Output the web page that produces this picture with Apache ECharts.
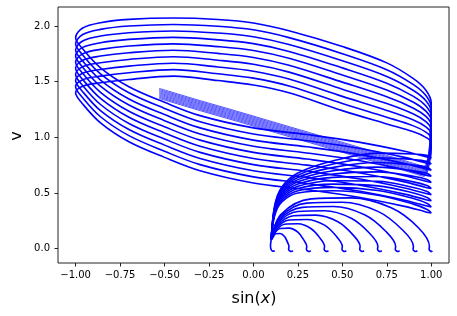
<!DOCTYPE html>
<html><head><meta charset="utf-8">
<script src="https://cdn.jsdelivr.net/npm/echarts@6/dist/echarts.min.js"></script>
<style>html,body{margin:0;padding:0;background:#fff}#c{width:457px;height:316px}</style>
</head><body><div id="c"></div>
<script>
// tick positions / labels
var xTicks = [-1.0, -0.75, -0.5, -0.25, 0.0, 0.25, 0.5, 0.75, 1.0];
var xTickLabels = ['\u22121.00','\u22120.75','\u22120.50','\u22120.25','0.00','0.25','0.50','0.75','1.00'];
var yTicks = [0.0, 0.5, 1.0, 1.5, 2.0];
var yTickLabels = ['0.0','0.5','1.0','1.5','2.0'];

// sin(x) sequence shared by the trajectories that go all the way round
var sAround = [0.10,0.12,0.16,0.25,0.45,0.70,0.90,0.98,1.00,
  0.97,0.85,0.60,0.30,0.00,-0.30,-0.50,-0.70,-0.86,-0.96,-1.00,
  -0.96,-0.86,-0.70,-0.45,-0.20,0.00,0.20,0.50,0.75,0.90,0.97,1.00,
  0.995,
  0.96,0.90,0.75,0.55,0.37,0.15,-0.10,-0.30,-0.53];
var tailStart = 32; // index where the final (faint) leg begins
// v along each of those trajectories
var vAround0 = [0.08,0.30,0.42,0.50,0.52,0.48,0.40,0.35,0.32, 0.33,0.38,0.46,0.53,0.59,0.70,0.82,0.96,1.13,1.30,1.40, 1.46,1.49,1.52,1.55,1.51,1.47,1.40,1.24,1.12,1.05,1.00,0.95, 0.80, 0.65,0.677,0.748,0.842,0.927,1.03,1.148,1.24,1.35];
var vAround1 = [0.08,0.31,0.435,0.52,0.55,0.522,0.45,0.404,0.375, 0.385,0.435,0.515,0.585,0.645,0.755,0.875,1.015,1.185,1.355,1.455, 1.518,1.55,1.58,1.608,1.571,1.532,1.462,1.304,1.181,1.103,1.047,0.99, 0.825, 0.66,0.687,0.758,0.852,0.937,1.04,1.158,1.25,1.36];
var vAround2 = [0.08,0.32,0.45,0.54,0.58,0.564,0.50,0.458,0.43, 0.44,0.49,0.57,0.64,0.70,0.81,0.93,1.07,1.24,1.41,1.51, 1.576,1.61,1.64,1.666,1.632,1.594,1.524,1.368,1.242,1.156,1.094,1.03, 0.85, 0.67,0.697,0.768,0.862,0.947,1.05,1.168,1.26,1.37];
var vAround3 = [0.08,0.33,0.465,0.56,0.61,0.606,0.55,0.512,0.485, 0.495,0.545,0.625,0.695,0.755,0.865,0.985,1.125,1.295,1.465,1.565, 1.634,1.67,1.70,1.724,1.693,1.656,1.586,1.432,1.303,1.209,1.141,1.07, 0.875, 0.68,0.707,0.778,0.872,0.957,1.06,1.178,1.27,1.38];
var vAround4 = [0.08,0.34,0.48,0.58,0.64,0.648,0.60,0.566,0.54, 0.55,0.60,0.68,0.75,0.81,0.92,1.04,1.18,1.35,1.52,1.62, 1.692,1.73,1.76,1.782,1.754,1.718,1.648,1.496,1.364,1.262,1.188,1.11, 0.90, 0.69,0.717,0.788,0.882,0.967,1.07,1.188,1.28,1.39];
var vAround5 = [0.08,0.35,0.495,0.60,0.67,0.69,0.65,0.62,0.595, 0.605,0.655,0.735,0.805,0.865,0.975,1.095,1.235,1.405,1.575,1.675, 1.75,1.79,1.82,1.84,1.815,1.78,1.71,1.56,1.425,1.315,1.235,1.15, 0.925, 0.70,0.727,0.798,0.892,0.977,1.08,1.198,1.29,1.40];
var vAround6 = [0.08,0.36,0.51,0.62,0.70,0.732,0.70,0.674,0.65, 0.66,0.71,0.79,0.86,0.92,1.03,1.15,1.29,1.46,1.63,1.73, 1.808,1.85,1.88,1.898,1.876,1.842,1.772,1.624,1.486,1.368,1.282,1.19, 0.95, 0.71,0.737,0.808,0.902,0.987,1.09,1.208,1.30,1.41];
var vAround7 = [0.08,0.37,0.525,0.64,0.73,0.774,0.75,0.728,0.705, 0.715,0.765,0.845,0.915,0.975,1.085,1.205,1.345,1.515,1.685,1.785, 1.866,1.91,1.94,1.956,1.937,1.904,1.834,1.688,1.547,1.421,1.329,1.23, 0.975, 0.72,0.747,0.818,0.912,0.997,1.10,1.218,1.31,1.42];
var vAround8 = [0.08,0.38,0.54,0.66,0.76,0.816,0.80,0.782,0.76, 0.77,0.82,0.90,0.97,1.03,1.14,1.26,1.40,1.57,1.74,1.84, 1.924,1.97,2.00,2.014,1.998,1.966,1.896,1.752,1.608,1.474,1.376,1.27, 1.00, 0.73,0.757,0.828,0.922,1.007,1.11,1.228,1.32,1.43];
var vAround9 = [0.08,0.39,0.555,0.68,0.79,0.858,0.85,0.836,0.815, 0.825,0.875,0.955,1.025,1.085,1.195,1.315,1.455,1.625,1.795,1.895, 1.982,2.03,2.06,2.072,2.059,2.028,1.958,1.816,1.669,1.527,1.423,1.31, 1.025, 0.74,0.767,0.838,0.932,1.017,1.12,1.238,1.33,1.44];

// trajectories that stop before a full turn, each ending in a small hook: [sin(x), v]
var arc01 = [[0.10,0.08],[0.096,0.025],[0.099,-0.005],[0.108,-0.022],[0.12,-0.02]];
var arc02 = [[0.10,0.08],[0.106,0.091],[0.125,0.133],[0.15,0.136],[0.175,0.109],[0.192,0.056],[0.20,0.02],[0.198,-0.005],[0.204,-0.02],[0.214,-0.026],[0.222,-0.018]];
var arc03 = [[0.10,0.08],[0.112,0.124],[0.15,0.181],[0.20,0.184],[0.25,0.148],[0.284,0.076],[0.30,0.02],[0.298,-0.005],[0.304,-0.02],[0.314,-0.026],[0.322,-0.018]];
var arc04 = [[0.10,0.08],[0.118,0.150],[0.175,0.219],[0.25,0.223],[0.325,0.179],[0.376,0.092],[0.40,0.02],[0.398,-0.005],[0.404,-0.02],[0.414,-0.026],[0.422,-0.018]];
var arc05 = [[0.10,0.08],[0.124,0.176],[0.20,0.257],[0.30,0.262],[0.40,0.211],[0.468,0.108],[0.50,0.02],[0.498,-0.005],[0.504,-0.02],[0.514,-0.026],[0.522,-0.018]];
var arc06 = [[0.10,0.08],[0.13,0.202],[0.225,0.295],[0.35,0.301],[0.475,0.242],[0.56,0.124],[0.60,0.02],[0.598,-0.005],[0.604,-0.02],[0.614,-0.026],[0.622,-0.018]];
var arc07 = [[0.10,0.08],[0.136,0.228],[0.25,0.333],[0.40,0.340],[0.55,0.273],[0.652,0.14],[0.70,0.02],[0.698,-0.005],[0.704,-0.02],[0.714,-0.026],[0.722,-0.018]];
var arc08 = [[0.10,0.08],[0.142,0.254],[0.275,0.371],[0.45,0.378],[0.625,0.304],[0.744,0.156],[0.80,0.02],[0.798,-0.005],[0.804,-0.02],[0.814,-0.026],[0.822,-0.018]];
var arc09 = [[0.10,0.08],[0.148,0.280],[0.30,0.409],[0.50,0.417],[0.70,0.335],[0.836,0.172],[0.90,0.02],[0.898,-0.005],[0.904,-0.02],[0.914,-0.026],[0.922,-0.018]];
var arc10 = [[0.10,0.08],[0.154,0.306],[0.325,0.447],[0.55,0.456],[0.775,0.367],[0.928,0.188],[0.99,0.02],[0.988,-0.005],[0.994,-0.02],[1.0,-0.026],[1.006,-0.018]];

var aroundV = [vAround0,vAround1,vAround2,vAround3,vAround4,vAround5,vAround6,vAround7,vAround8,vAround9];
var arcs = [arc01,arc02,arc03,arc04,arc05,arc06,arc07,arc08,arc09,arc10];

var lineStyle = {color:'#0000ff', width:1.6};
var tailStyle = {color:'#0000ff', width:0.9, opacity:0.75};
var series = [];
aroundV.forEach(function(vs){
  var pts = sAround.map(function(s,i){return [s, vs[i]];});
  series.push({type:'line', data: pts.slice(0, tailStart+1),
    showSymbol:false, smooth:0.35, lineStyle:lineStyle, silent:true});
  series.push({type:'line', data: pts.slice(tailStart),
    showSymbol:false, smooth:0.35, lineStyle:tailStyle, silent:true});
});
arcs.forEach(function(a){
  series.push({type:'line', data:a, showSymbol:false, smooth:0.35, lineStyle:lineStyle, silent:true});
});

var chart = echarts.init(document.getElementById('c'), null, {renderer:'canvas'});
var tickStyle = {show:true, length:3.5, inside:false, lineStyle:{color:'#222', width:1}};
chart.setOption({
  animation:false,
  backgroundColor:'#fff',
  grid:{left:58, right:8, top:7, bottom:53, show:true, borderColor:'#222', borderWidth:1, backgroundColor:'transparent'},
  xAxis:{type:'value', min:-1.099, max:1.1,
    axisLine:{show:false, onZero:false}, splitLine:{show:false},
    axisTick:Object.assign({customValues:xTicks}, tickStyle),
    axisLabel:{customValues:xTicks, margin:7, fontFamily:'DejaVu Sans', fontSize:10, color:'#000',
      formatter:function(v){var i=xTicks.indexOf(v); return i>=0?xTickLabels[i]:'';}}},
  yAxis:{type:'value', min:-0.129, max:2.171,
    axisLine:{show:false, onZero:false}, splitLine:{show:false},
    axisTick:Object.assign({customValues:yTicks}, tickStyle),
    axisLabel:{customValues:yTicks, margin:8, fontFamily:'DejaVu Sans', fontSize:10, color:'#000',
      formatter:function(v){var i=yTicks.indexOf(v); return i>=0?yTickLabels[i]:'';}}},
  graphic:[
    {type:'text', x:254, y:299, style:{text:'{n|sin(}{i|x}{n|)}', rich:{n:{fontFamily:'DejaVu Sans', fontSize:16, fill:'#000'}, i:{fontFamily:'DejaVu Sans', fontStyle:'italic', fontSize:16, fill:'#000'}}, align:'center', verticalAlign:'middle'}},
    {type:'text', x:17, y:136, rotation:Math.PI/2, style:{text:'v', fontFamily:'DejaVu Sans', fontSize:16, fill:'#000', align:'center', verticalAlign:'middle'}}
  ],
  series:series
});
</script>
</body></html>
